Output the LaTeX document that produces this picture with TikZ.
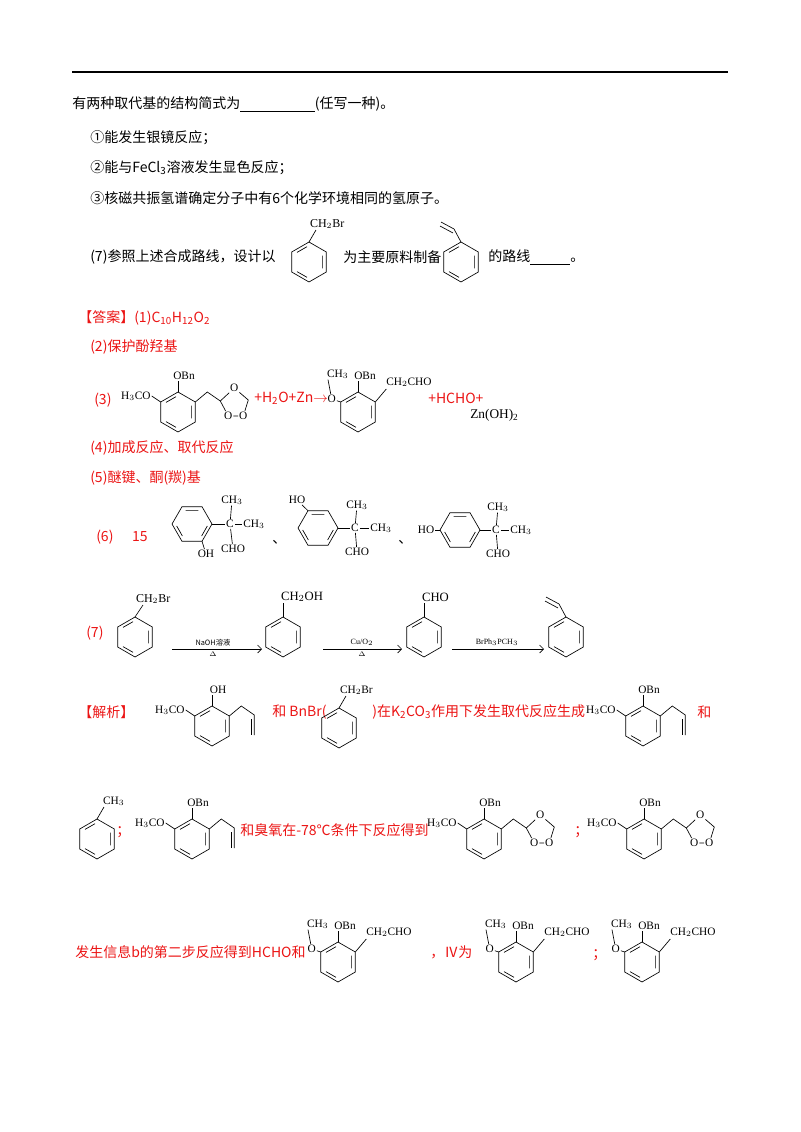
\documentclass[tikz,border=0pt]{standalone}
\usepackage{fontspec}
\setmainfont{Liberation Serif}
\newfontfamily\cjk{Noto Sans CJK SC}
\usetikzlibrary{calc,arrows.meta}
\definecolor{rd}{RGB}{235,20,20}
\tikzset{
 x=0.75pt,y=-0.75pt,
 lab/.style={inner sep=0.6pt,font=\fontsize{8.5}{9}\selectfont},
 txt/.style={anchor=west,inner sep=0pt,font=\cjk\fontsize{10.5}{12}\selectfont},
 rtxt/.style={txt,text=rd},
 bd/.style={line width=0.5pt},
 benz/.pic={
  \draw[bd] (0,-20)--(17.3,-10)--(17.3,10)--(0,20)--(-17.3,10)--(-17.3,-10)--cycle;
  \draw[bd] (13.6,-6.3)--(13.6,6.3) (-2,15.3)--(-12,9.6) (-12,-9.6)--(-2,-15.3);
  \coordinate (-t) at (0,-20); \coordinate (-tr) at (17.3,-10); \coordinate (-tl) at (-17.3,-10);
  \coordinate (-br) at (17.3,10); \coordinate (-b) at (0,20); \coordinate (-bl) at (-17.3,10);
 },
 benzh/.pic={
  \draw[bd] (20,0)--(10,17.3)--(-10,17.3)--(-20,0)--(-10,-17.3)--(10,-17.3)--cycle;
  \draw[bd] (-6.3,-13.6)--(6.3,-13.6) (15.3,2)--(9.6,12) (-9.6,12)--(-15.3,2);
  \coordinate (-r) at (20,0); \coordinate (-l) at (-20,0); \coordinate (-ul) at (-10,-17.3);
  \coordinate (-lr) at (10,17.3);
 }
}
\newcommand\leftpart[2]{%
 \coordinate (#1tt) at ($(#1-t)+(0,-11)$);
 \draw[bd] (#1-t)--(#1tt);
 \node[lab,anchor=south] (#1T) at ($(#1tt)+(6,0)$) {#2};
 \coordinate (#1ll) at ($(#1-tl)+(-9,-6)$);
 \draw[bd] (#1-tl)--(#1ll);
 \node[lab,anchor=east] (#1L) at (#1ll) {H$_3$CO};}
\newcommand\allyl[1]{%
 \coordinate (#1a) at ($(#1-tr)+(12,-10)$);
 \coordinate (#1b) at ($(#1a)+(13,9)$);
 \coordinate (#1c) at ($(#1b)+(0,20)$);
 \draw[bd] (#1-tr)--(#1a)--(#1b)--(#1c);
 \draw[bd] ($(#1b)+(-3,4)$)--($(#1c)+(-3,0)$);}
\newcommand\ozon[1]{%
 \coordinate (#1a) at ($(#1-tr)+(12,-10)$);
 \coordinate (#1C) at ($(#1a)+(13,9)$);
 \draw[bd] (#1-tr)--(#1a)--(#1C);
 \node[lab] (#1o1) at ($(#1C)+(14,-13)$) {O};
 \coordinate (#1P) at ($(#1C)+(28,-1)$);
 \node[lab] (#1o3) at ($(#1C)+(23,15)$) {O};
 \node[lab] (#1o2) at ($(#1C)+(8,15)$) {O};
 \draw[bd] (#1C)--(#1o1)--(#1P)--(#1o3)--(#1o2)--(#1C);}
\newcommand\ald[1]{%
 \coordinate (#1tt) at ($(#1-t)+(0,-11)$);
 \draw[bd] (#1-t)--(#1tt);
 \node[lab,anchor=south] (#1T) at ($(#1tt)+(7,0)$) {OBn};
 \node[lab] (#1O) at ($(#1-tl)+(-9,-3)$) {O};
 \draw[bd] (#1-tl)--(#1O);
 \node[lab] (#1M) at ($(#1O)+(6,-25)$) {CH$_3$};
 \draw[bd] (#1O)--($(#1M.south west)+(2,0)$);
 \coordinate (#1r) at ($(#1-tr)+(11,-13)$);
 \draw[bd] (#1-tr)--(#1r);
 \node[lab,anchor=south west] (#1R) at ($(#1r)+(-1,-1)$) {CH$_2$CHO};}
\begin{document}
\begin{tikzpicture}
\useasboundingbox (0,0) rectangle (800,1132);
\draw[line width=1pt] (72,72)--(728,72);
\node[txt] (q1) at (72,104) {有两种取代基的结构简式为\rule[-2pt]{56pt}{0.4pt}(任写一种)。};
\node[txt] (q2) at (90,138) {①能发生银镜反应；};
\node[txt] (q3) at (90,168) {②能与FeCl\textsubscript{3}溶液发生显色反应；};
\node[txt] (q4) at (90,198) {③核磁共振氢谱确定分子中有6个化学环境相同的氢原子。};
\node[txt] (q5) at (90,257) {(7)参照上述合成路线，设计以};
\pic (s1) at (309,262) {benz};
\coordinate (s1x) at ($(s1-t)+(7,-12)$); \draw[bd] (s1-t)--(s1x);
\node[lab,anchor=south west,font=\fontsize{9}{10}\selectfont] (s1L) at ($(s1x)+(-7,0)$) {CH$_2$Br};
\node[txt] (q6) at (343,257) {为主要原料制备};
\pic (s2) at (461,262) {benz};
\coordinate (s2a) at ($(s2-t)+(-7,-13)$); \coordinate (s2b) at ($(s2a)+(-13,-7)$);
\draw[bd] (s2-t)--(s2a)--(s2b) ($(s2a)+(-1,4)$)--($(s2b)+(-1,4)$);
\node[txt] (q7) at (488,257) {的路线\rule[-2pt]{30pt}{0.4pt}。};
% answers
\node[rtxt] (a1) at (78,318) {【答案】(1)C\textsubscript{10}H\textsubscript{12}O\textsubscript{2}};
\node[rtxt] (a2) at (90,347) {(2)保护酚羟基};
\node[rtxt] (a3) at (94,400) {(3)};
\pic (r3) at (178,412) {benz}; \leftpart{r3}{OBn} \ozon{r3}
\node[rtxt] (a3b) at (254,398) {+H\textsubscript{2}O+Zn$\rightarrow$};
\pic (p3) at (358,412) {benz}; \ald{p3}
\node[rtxt] (a3c) at (428,398) {+HCHO+};
\node[txt,font=\fontsize{10}{12}\selectfont] (a3d) at (470,415) {Zn(OH)\textsubscript{2}};
\node[rtxt] (a4) at (90,448) {(4)加成反应、取代反应};
\node[rtxt] (a5) at (90,478) {(5)醚键、酮(羰)基};
\node[rtxt] (a6) at (96,537) {(6)\hspace{14pt}15};
% (6) structures
\pic (f1) at (192,524) {benzh};
\node[lab] (f1C) at (230,524) {C}; \draw[bd] (f1-r)--(f1C);
\node[lab] (f1U) at (232,500) {CH$_3$}; \draw[bd] (f1C)--(f1U);
\node[lab] (f1R) at (254,524) {CH$_3$}; \draw[bd] (f1C)--(f1R);
\node[lab] (f1D) at (233,549) {CHO}; \draw[bd] (f1C)--(f1D);
\node[lab] (f1O) at (206,554) {OH}; \draw[bd] (f1-lr)--(f1O);
\node[txt] (d1) at (272,542) {、};
\pic (f2) at (318,528) {benzh};
\node[lab] (f2H) at (297,500) {HO}; \draw[bd] (f2-ul)--(f2H);
\node[lab] (f2C) at (355,528) {C}; \draw[bd] (f2-r)--(f2C);
\node[lab] (f2U) at (357,505) {CH$_3$}; \draw[bd] (f2C)--(f2U);
\node[lab] (f2R) at (381,528) {CH$_3$}; \draw[bd] (f2C)--(f2R);
\node[lab] (f2D) at (357,552) {CHO}; \draw[bd] (f2C)--(f2D);
\node[txt] (d2) at (398,542) {、};
\pic (f3) at (460,530) {benzh};
\node[lab] (f3H) at (426,530) {HO}; \draw[bd] (f3-l)--(f3H);
\node[lab] (f3C) at (496,530) {C}; \draw[bd] (f3-r)--(f3C);
\node[lab] (f3U) at (498,507) {CH$_3$}; \draw[bd] (f3C)--(f3U);
\node[lab] (f3R) at (521,530) {CH$_3$}; \draw[bd] (f3C)--(f3R);
\node[lab] (f3D) at (498,554) {CHO}; \draw[bd] (f3C)--(f3D);
% (7) route
\node[rtxt] (a7) at (86,633) {(7)};
\pic (g1) at (135,637) {benz};
\coordinate (g1x) at ($(g1-t)+(8,-12)$); \draw[bd] (g1-t)--(g1x);
\node[lab,anchor=south west,font=\fontsize{9}{10}\selectfont] (g1L) at ($(g1x)+(-8,0)$) {CH$_2$Br};
\pic (g2) at (283,637) {benz};
\coordinate (g2x) at ($(g2-t)+(0,-14)$); \draw[bd] (g2-t)--(g2x);
\node[lab,anchor=south west,font=\fontsize{9.5}{10}\selectfont] (g2L) at ($(g2x)+(-3,0)$) {CH$_2$OH};
\pic (g3) at (424,637) {benz};
\coordinate (g3x) at ($(g3-t)+(0,-14)$); \draw[bd] (g3-t)--(g3x);
\node[lab,anchor=south west,font=\fontsize{9.5}{10}\selectfont] (g3L) at ($(g3x)+(-3,0)$) {CHO};
\pic (g4) at (566,637) {benz};
\coordinate (g4a) at ($(g4-t)+(-7,-13)$); \coordinate (g4b) at ($(g4a)+(-13,-7)$);
\draw[bd] (g4-t)--(g4a)--(g4b) ($(g4a)+(-1,4)$)--($(g4b)+(-1,4)$);
\coordinate (e1a) at (172,649); \coordinate (e1b) at (262,649);
\coordinate (e2a) at (323,649); \coordinate (e2b) at (402,649);
\coordinate (e3a) at (452,649); \coordinate (e3b) at (544,649);
\draw[bd,-{Straight Barb[length=3pt]}] (e1a)--(e1b);
\draw[bd,-{Straight Barb[length=3pt]}] (e2a)--(e2b);
\draw[bd,-{Straight Barb[length=3pt]}] (e3a)--(e3b);
\node[lab,font=\cjk\fontsize{5.5}{6}\selectfont,anchor=south] (e1t) at (213,647) {NaOH溶液};
\node[lab,font=\fontsize{5.5}{6}\selectfont,anchor=north] (e1d) at (213,651) {$\Delta$};
\node[lab,font=\fontsize{6}{6}\selectfont,anchor=south] (e2t) at (362,647) {Cu/O$_2$};
\node[lab,font=\fontsize{5.5}{6}\selectfont,anchor=north] (e2d) at (362,651) {$\Delta$};
\node[lab,font=\fontsize{6}{6}\selectfont,anchor=south] (e3t) at (497,647) {BrPh$_3$PCH$_3$};
% analysis row 1
\node[rtxt] (j1) at (78,712) {【解析】};
\pic (h1) at (212,726) {benz}; \leftpart{h1}{OH} \allyl{h1}
\node[rtxt] (j2) at (272,712) {和 BnBr(};
\pic (h2) at (339,728) {benz};
\coordinate (h2x) at ($(h2-t)+(7,-12)$); \draw[bd] (h2-t)--(h2x);
\node[lab,anchor=south west] (h2L) at ($(h2x)+(-7,0)$) {CH$_2$Br};
\node[rtxt] (j3) at (372,712) {)在K\textsubscript{2}CO\textsubscript{3}作用下发生取代反应生成};
\pic (h3) at (643,726) {benz}; \leftpart{h3}{OBn} \allyl{h3}
\node[rtxt] (j4) at (697,712) {和};
% analysis row 2
\pic (k1) at (97,839) {benz};
\coordinate (k1x) at ($(k1-t)+(7,-12)$); \draw[bd] (k1-t)--(k1x);
\node[lab,anchor=south west] (k1L) at ($(k1x)+(-2,0)$) {CH$_3$};
\node[rtxt] (k2) at (116,832) {；};
\pic (k3) at (192,839) {benz}; \leftpart{k3}{OBn} \allyl{k3}
\node[rtxt] (k4) at (240,830) {和臭氧在-78℃条件下反应得到};
\pic (k5) at (484,839) {benz}; \leftpart{k5}{OBn} \ozon{k5}
\node[rtxt] (k6) at (574,832) {；};
\pic (k7) at (644,839) {benz}; \leftpart{k7}{OBn} \ozon{k7}
% analysis row 3
\node[rtxt] (m1) at (75,952) {发生信息b的第二步反应得到HCHO和};
\pic (n1) at (338,962) {benz}; \ald{n1}
\node[rtxt] (m2) at (430,952) {，Ⅳ为};
\pic (n2) at (516,962) {benz}; \ald{n2}
\node[rtxt] (m3) at (592,955) {；};
\pic (n3) at (642,962) {benz}; \ald{n3}
\end{tikzpicture}
\end{document}
